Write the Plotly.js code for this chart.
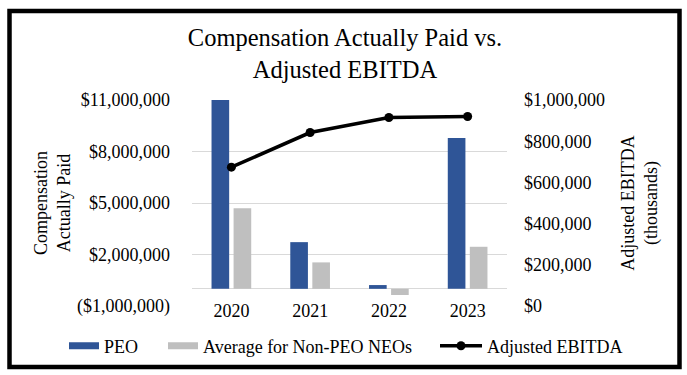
<!DOCTYPE html>
<html>
<head>
<meta charset="utf-8">
<script src="https://cdn.plot.ly/plotly-3.0.1.min.js"></script>
<style>
html,body{margin:0;padding:0;background:#fff;}
#chart{width:687px;height:375px;}
</style>
</head>
<body>
<div id="chart"></div>
<script>
const years = ['2020', '2021', '2022', '2023'];
const peoCAP = [11000000, 2720000, 220000, 8780000];
const nonPeoCAP = [4690000, 1540000, -360000, 2450000];
const adjustedEBITDA = [674000, 842000, 915000, 920000];
const leftTickVals = [-1000000, 2000000, 5000000, 8000000, 11000000];
const leftTickText = ['($1,000,000)', '$2,000,000', '$5,000,000', '$8,000,000', '$11,000,000'];

const W = 687, H = 375;
const M = {l: 192, r: 180, t: 100, b: 69};
const pw = W - M.l - M.r, ph = H - M.t - M.b;
const px2x = p => (p - M.l) / pw;
const px2y = p => (H - M.b - p) / ph;

const ff = 'Liberation Serif, Times New Roman, serif';
const font = {family: ff, size: 18, color: '#000'};
const blue = '#2F5597', gray = '#BFBFBF';

const traces = [
  {type: 'bar', name: 'PEO', x: years, y: peoCAP, marker: {color: blue}, yaxis: 'y', showlegend: false},
  {type: 'bar', name: 'Average for Non-PEO NEOs', x: years, y: nonPeoCAP, marker: {color: gray}, yaxis: 'y', showlegend: false},
  {type: 'scatter', mode: 'lines+markers', name: 'Adjusted EBITDA', x: years, y: adjustedEBITDA,
   yaxis: 'y2', line: {color: '#000', width: 3.5}, marker: {color: '#000', size: 9}, legend: 'legend3'},
  // legend keys for the bar series (wide swatches as in the reference)
  {type: 'scatter', mode: 'lines', name: 'PEO', x: [null], y: [null], line: {color: blue, width: 7}, legend: 'legend', hoverinfo: 'skip'},
  {type: 'scatter', mode: 'lines', name: 'Average for Non-PEO NEOs', x: [null], y: [null], line: {color: gray, width: 7}, legend: 'legend2', hoverinfo: 'skip'}
];

const legendBase = {orientation: 'h', xref: 'container', xanchor: 'left', yref: 'container', y: 1 - 346 / H, yanchor: 'middle',
                    font: font, bgcolor: 'rgba(0,0,0,0)', borderwidth: 0};

const layout = {
  width: W, height: H,
  margin: M,
  paper_bgcolor: '#fff', plot_bgcolor: '#fff',
  font: font,
  showlegend: true,
  barmode: 'group', bargap: 0.44, bargroupgap: 0.2,
  title: {text: 'Compensation Actually Paid vs.<br>Adjusted EBITDA', font: {family: ff, size: 24.5, color: '#000'},
          xref: 'container', x: 345 / W, xanchor: 'center', yref: 'container', y: 1 - 46 / H, yanchor: 'top'},
  xaxis: {type: 'category', anchor: 'free', position: 0.04, showgrid: false, showline: false, zeroline: false,
          ticks: '', tickfont: font, automargin: false},
  yaxis: {range: [-1000000, 11000000], tickmode: 'array', tickvals: leftTickVals, ticktext: leftTickText,
          showgrid: true, gridcolor: '#D9D9D9', gridwidth: 1, zeroline: true, zerolinecolor: '#D9D9D9', zerolinewidth: 1,
          showline: false, ticks: '', ticklabelstandoff: 21, tickfont: font, automargin: false,
          title: {text: 'Compensation<br>Actually Paid', font: font, standoff: 1}},
  yaxis2: {overlaying: 'y', side: 'right', range: [0, 1000000], dtick: 200000, tickformat: '$,.0f',
           showgrid: false, zeroline: false, showline: false, ticks: '', ticklabelstandoff: 16, tickfont: font, automargin: false,
           title: {text: 'Adjusted EBITDA<br>(thousands)', font: font, standoff: 17}},
  legend: Object.assign({}, legendBase, {x: 64 / W, itemwidth: 30}),
  legend2: Object.assign({}, legendBase, {x: 163 / W, itemwidth: 30}),
  legend3: Object.assign({}, legendBase, {x: 435 / W, itemwidth: 42}),
  shapes: [{type: 'rect', xref: 'paper', yref: 'paper', x0: px2x(9.5), x1: px2x(679.5), y0: px2y(11), y1: px2y(367),
            line: {color: '#000', width: 4.5}, fillcolor: 'rgba(0,0,0,0)'}]
};

Plotly.newPlot('chart', traces, layout, {displayModeBar: false, staticPlot: true});
</script>
</body>
</html>
